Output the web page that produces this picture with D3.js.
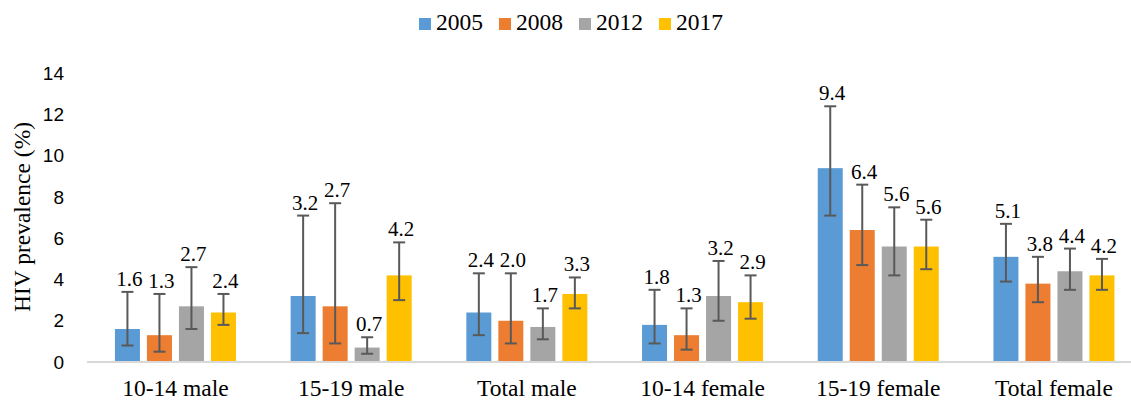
<!DOCTYPE html>
<html>
<head>
<meta charset="utf-8">
<script src="https://cdn.jsdelivr.net/npm/d3@7"></script>
<style>
  html, body { margin: 0; padding: 0; background: #fff; }
  svg { display: block; }
</style>
</head>
<body>
<div id="chart"></div>
<script>
// categorias, años y valores (prevalencia VIH %), con intervalos de confianza
const CATEGORIES = ["10-14 male", "15-19 male", "Total male", "10-14 female", "15-19 female", "Total female"];
const YEARS = ["2005", "2008", "2012", "2017"];
const VALUES = {
  "2005": [1.6, 3.2, 2.4, 1.8, 9.4, 5.1],
  "2008": [1.3, 2.7, 2.0, 1.3, 6.4, 3.8],
  "2012": [2.7, 0.7, 1.7, 3.2, 5.6, 4.4],
  "2017": [2.4, 4.2, 3.3, 2.9, 5.6, 4.2],
};
const CI_LOW = {
  "2005": [0.8, 1.4, 1.3, 0.9, 7.1, 3.9],
  "2008": [0.5, 0.9, 0.9, 0.6, 4.7, 2.9],
  "2012": [1.6, 0.4, 1.1, 2.0, 4.2, 3.5],
  "2017": [1.8, 3.0, 2.6, 2.1, 4.5, 3.5],
};
const CI_HIGH = {
  "2005": [3.4, 7.1, 4.3, 3.5, 12.4, 6.7],
  "2008": [3.3, 7.7, 4.3, 2.6, 8.6, 5.1],
  "2012": [4.6, 1.2, 2.6, 4.9, 7.5, 5.5],
  "2017": [3.3, 5.8, 4.1, 4.2, 6.9, 5.0],
};
const Y_TICKS = [0, 2, 4, 6, 8, 10, 12, 14];

const COLORS = { "2005": "#5B9BD5", "2008": "#ED7D31", "2012": "#A5A5A5", "2017": "#FFC000" };
const SERIF = '"Liberation Serif"';
const SANS = '"Liberation Sans"';

const width = 1131, height = 400;
const svg = d3.select('#chart').append('svg')
  .attr('width', width).attr('height', height);

const y = d3.scaleLinear().domain([0, 14]).range([362, 73.3]);
const x0 = d3.scaleBand().domain(CATEGORIES).range([87.6, 1141.8]).padding(0);
const half = 64;
const x1 = d3.scaleBand().domain(YEARS)
  .range([x0.bandwidth() / 2 - half, x0.bandwidth() / 2 + half])
  .paddingInner(0.219).paddingOuter(0.109);

// eje Y: solo etiquetas, sin lineas
const yAxis = svg.append('g')
  .attr('transform', 'translate(64,0)')
  .call(d3.axisLeft(y).tickValues(Y_TICKS).tickSize(0).tickPadding(0).tickFormat(d3.format('d')));
yAxis.select('.domain').remove();
yAxis.selectAll('text')
  .style('font-family', SANS).style('font-size', '19px').attr('fill', '#000');

// barras
const rows = [];
YEARS.forEach(yr => CATEGORIES.forEach((c, i) => rows.push({
  cat: c, yr, v: VALUES[yr][i], lo: CI_LOW[yr][i], hi: CI_HIGH[yr][i],
})));

svg.append('g').selectAll('rect').data(rows).join('rect')
  .attr('x', d => x0(d.cat) + x1(d.yr))
  .attr('y', d => y(d.v))
  .attr('width', x1.bandwidth())
  .attr('height', d => y(0) - y(d.v))
  .attr('fill', d => COLORS[d.yr]);

// eje X
svg.append('line')
  .attr('x1', 87).attr('x2', 1131).attr('y1', y(0)).attr('y2', y(0))
  .attr('stroke', '#d9d9d9').attr('stroke-width', 2);

// barras de error
const cx = d => x0(d.cat) + x1(d.yr) + x1.bandwidth() / 2;
const gErr = svg.append('g').attr('stroke', '#595959').attr('stroke-width', 2);
rows.forEach(d => {
  const c = cx(d);
  gErr.append('line').attr('x1', c).attr('x2', c).attr('y1', y(d.lo)).attr('y2', y(d.hi));
  [d.lo, d.hi].forEach(v => {
    gErr.append('line').attr('x1', c - 6).attr('x2', c + 6).attr('y1', y(v)).attr('y2', y(v));
  });
});

// etiquetas de valor sobre la barra de error
svg.append('g').selectAll('text').data(rows).join('text')
  .attr('x', d => cx(d) + 2)
  .attr('y', d => y(d.hi) - 6)
  .attr('text-anchor', 'middle')
  .style('font-family', SERIF).style('font-size', '21px').attr('fill', '#000')
  .text(d => d.v.toFixed(1));

// etiquetas de categoria
svg.append('g').selectAll('text').data(CATEGORIES).join('text')
  .attr('x', d => x0(d) + x0.bandwidth() / 2)
  .attr('y', 396)
  .attr('text-anchor', 'middle')
  .style('font-family', SERIF).style('font-size', '23.5px').attr('fill', '#000')
  .text(d => d);

// titulo eje Y
svg.append('text')
  .attr('transform', 'translate(30,217) rotate(-90)')
  .attr('text-anchor', 'middle')
  .style('font-family', SERIF).style('font-size', '23.5px').attr('fill', '#000')
  .text('HIV prevalence (%)');

// leyenda
const legend = svg.append('g');
let lx = 419;
YEARS.forEach(yr => {
  legend.append('rect').attr('x', lx).attr('y', 18).attr('width', 12).attr('height', 12)
    .attr('fill', COLORS[yr]);
  const t = legend.append('text')
    .attr('x', lx + 17).attr('y', 30)
    .style('font-family', SERIF).style('font-size', '23.5px').attr('fill', '#000')
    .text(yr);
  lx += 17 + t.node().getComputedTextLength() + 16;
});
</script>
</body>
</html>
